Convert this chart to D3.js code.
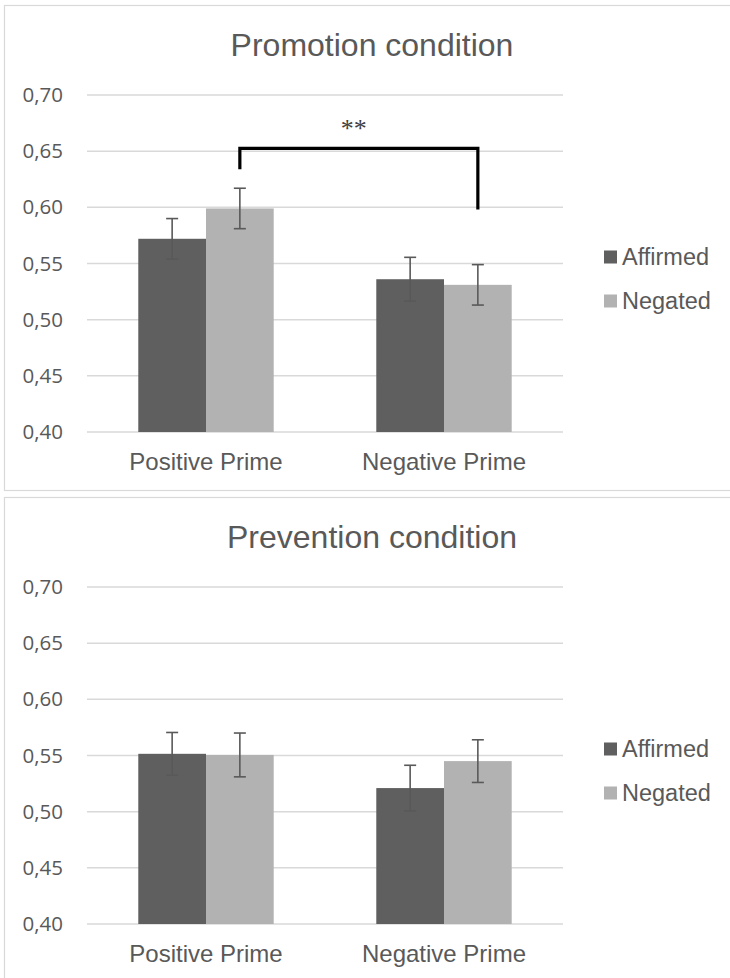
<!DOCTYPE html>
<html>
<head>
<meta charset="utf-8">
<script src="https://cdn.jsdelivr.net/npm/d3@7/dist/d3.min.js"></script>
<style>
  body { margin: 0; background: #fff; }
  text { font-family: "Liberation Sans", Arial, sans-serif; fill: #595959; }
</style>
</head>
<body>
<div id="chart"></div>
<script>
// data
var categories = ["Positive Prime", "Negative Prime"];
var seriesNames = ["Affirmed", "Negated"];
var seriesColors = ["#5f5f5f", "#b2b2b2"];
var yTicks = [0.40, 0.45, 0.50, 0.55, 0.60, 0.65, 0.70];

var panelTitles = ["Promotion condition", "Prevention condition"];

// means per panel: [category][series]
var promotionMeans = [[0.572, 0.599], [0.536, 0.531]];
var promotionErrors = [[0.018, 0.018], [0.0195, 0.018]];
var preventionMeans = [[0.5515, 0.5505], [0.521, 0.545]];
var preventionErrors = [[0.019, 0.0195], [0.0203, 0.019]];

// significance bracket in the promotion panel (Negated vs Negated)
var bracketLabel = "**";
var bracketTop = 0.6525;
var bracketLeftEnd = 0.634;
var bracketRightEnd = 0.598;

// svg container
var svgWidth = 730;
var svgHeight = 978;
var panelOffset = 492;

// plot area inside each panel
var plot = { left: 87, right: 563, top: 95, bottom: 432 };

var svg = d3.select("#chart").append("svg")
  .attr("width", svgWidth)
  .attr("height", svgHeight);

var yScale = d3.scaleLinear()
  .domain([0.40, 0.70])
  .range([plot.bottom, plot.top]);

var x0 = d3.scaleBand()
  .domain(categories)
  .range([plot.left, plot.right])
  .paddingInner(0.431)
  .paddingOuter(0.2155);

var x1 = d3.scaleBand()
  .domain(seriesNames)
  .range([0, x0.bandwidth()]);

var fmt = function(d) { return d3.format(".2f")(d).replace(".", ","); };

function drawPanel(index, means, errors) {
  var g = svg.append("g")
    .attr("transform", `translate(0, ${index * panelOffset})`);

  // chart border (runs past the right edge of the picture)
  g.append("rect")
    .attr("x", 4.5)
    .attr("y", 5.5)
    .attr("width", 740)
    .attr("height", 485)
    .attr("fill", "#fff")
    .attr("stroke", "#d9d9d9")
    .attr("stroke-width", 1.2);

  // title
  g.append("text")
    .attr("x", 372)
    .attr("y", 56)
    .attr("text-anchor", "middle")
    .style("font-size", "32px")
    .text(panelTitles[index]);

  // gridlines
  g.selectAll(".grid")
    .data(yTicks)
    .enter()
    .append("line")
    .attr("x1", plot.left)
    .attr("x2", plot.right)
    .attr("y1", d => yScale(d))
    .attr("y2", d => yScale(d))
    .attr("stroke", "#d9d9d9")
    .attr("stroke-width", 1.5);

  // y axis labels
  var yAxis = d3.axisLeft(yScale)
    .tickValues(yTicks)
    .tickFormat(fmt)
    .tickSize(0)
    .tickPadding(24);

  var yG = g.append("g")
    .attr("transform", `translate(${plot.left}, 0)`)
    .call(yAxis);
  yG.select(".domain").remove();
  yG.selectAll("text")
    .style("font-family", "'Open Sans', 'Liberation Sans', sans-serif")
    .style("font-size", "20.5px")
    .attr("fill", "#595959");

  // x axis labels
  var xAxis = d3.axisBottom(x0).tickSize(0).tickPadding(21);
  var xG = g.append("g")
    .attr("transform", `translate(0, ${plot.bottom})`)
    .call(xAxis);
  xG.select(".domain").remove();
  xG.selectAll("text")
    .style("font-family", "'Liberation Sans', Arial, sans-serif")
    .style("font-size", "24px")
    .attr("fill", "#595959");

  // bars
  var groups = g.selectAll(".cat")
    .data(categories)
    .enter()
    .append("g")
    .attr("transform", d => `translate(${x0(d)}, 0)`);

  groups.selectAll("rect")
    .data((d, i) => seriesNames.map((s, j) => ({ s: s, j: j, v: means[i][j], e: errors[i][j] })))
    .enter()
    .append("rect")
    .attr("x", d => x1(d.s))
    .attr("y", d => yScale(d.v))
    .attr("width", x1.bandwidth())
    .attr("height", d => yScale(0.40) - yScale(d.v))
    .attr("fill", d => seriesColors[d.j]);

  // error bars
  var capW = 6;
  var eb = groups.selectAll(".err")
    .data((d, i) => seriesNames.map((s, j) => ({ s: s, v: means[i][j], e: errors[i][j] })))
    .enter()
    .append("g")
    .attr("stroke", "#595959")
    .attr("stroke-width", 1.6);

  eb.append("line")
    .attr("x1", d => x1(d.s) + x1.bandwidth() / 2)
    .attr("x2", d => x1(d.s) + x1.bandwidth() / 2)
    .attr("y1", d => yScale(d.v + d.e))
    .attr("y2", d => yScale(d.v - d.e));
  eb.append("line")
    .attr("x1", d => x1(d.s) + x1.bandwidth() / 2 - capW)
    .attr("x2", d => x1(d.s) + x1.bandwidth() / 2 + capW)
    .attr("y1", d => yScale(d.v + d.e))
    .attr("y2", d => yScale(d.v + d.e));
  eb.append("line")
    .attr("x1", d => x1(d.s) + x1.bandwidth() / 2 - capW)
    .attr("x2", d => x1(d.s) + x1.bandwidth() / 2 + capW)
    .attr("y1", d => yScale(d.v - d.e))
    .attr("y2", d => yScale(d.v - d.e));

  // legend
  var legend = g.selectAll(".legend")
    .data(seriesNames)
    .enter()
    .append("g")
    .attr("transform", (d, i) => `translate(604, ${257 + i * 44})`);
  legend.append("rect")
    .attr("x", 0)
    .attr("y", -6.5)
    .attr("width", 13)
    .attr("height", 13)
    .attr("fill", (d, i) => seriesColors[i]);
  legend.append("text")
    .attr("x", 18)
    .attr("y", 8)
    .style("font-size", "23.5px")
    .text(d => d);

  return g;
}

var topPanel = drawPanel(0, promotionMeans, promotionErrors);
drawPanel(1, preventionMeans, preventionErrors);

// significance bracket
var bx1 = x0(categories[0]) + x1(seriesNames[1]) + x1.bandwidth() / 2;
var bx2 = x0(categories[1]) + x1(seriesNames[1]) + x1.bandwidth() / 2;
topPanel.append("path")
  .attr("d", d3.line()([
    [bx1, yScale(bracketLeftEnd)],
    [bx1, yScale(bracketTop)],
    [bx2, yScale(bracketTop)],
    [bx2, yScale(bracketRightEnd)]
  ]))
  .attr("fill", "none")
  .attr("stroke", "#000")
  .attr("stroke-width", 3.2);

topPanel.append("text")
  .attr("x", (bx1 + bx2) / 2 - 5)
  .attr("y", yScale(bracketTop) - 11)
  .attr("text-anchor", "middle")
  .style("font-family", "'Liberation Serif', 'Times New Roman', serif")
  .style("font-size", "26px")
  .style("fill", "#404040")
  .text(bracketLabel);
</script>
</body>
</html>
